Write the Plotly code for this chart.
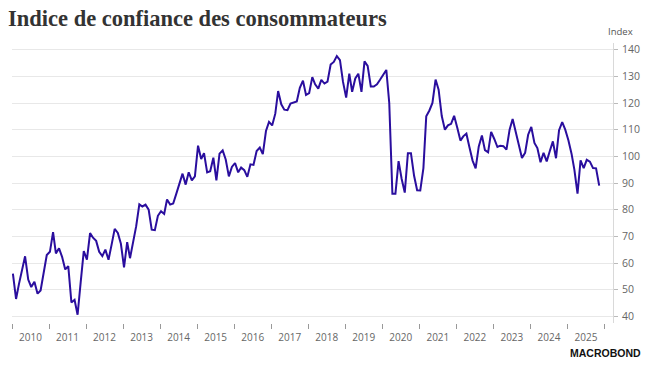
import pandas as pd
import plotly.graph_objects as go

# Monthly consumer confidence index, Jan 2010 .. Nov 2025
v2010 = [56, 46.5, 52, 57.5, 62.5, 53.8, 51, 53, 48.5, 49.7, 57.4, 63]
v2011 = [64.2, 71.6, 63.6, 65.5, 62.3, 57.6, 58.8, 45.2, 46.2, 40.6, 53, 64.5]
v2012 = [61.3, 71.2, 69.5, 68.3, 64.2, 62.6, 65, 61.2, 67, 72.8, 71.3, 67.2]
v2013 = [58.4, 67.8, 61.8, 67.8, 73.8, 82, 81.2, 81.9, 80, 72.5, 72.3, 77.7]
v2014 = [79.4, 78.4, 83.8, 81.9, 82.3, 86, 90, 93.5, 89.4, 94, 91, 92.5]
v2015 = [104, 99, 101.2, 94, 94.4, 99.5, 91, 101, 102.2, 98.8, 92.5, 96]
v2016 = [97.5, 94, 95.8, 94.8, 92.3, 97, 96.8, 102, 103.3, 100.8, 109.5, 112.9]
v2017 = [111.6, 116, 124.5, 119.5, 117.5, 117.3, 119.8, 120.2, 120.6, 125.7, 128.4, 123]
v2018 = [123.7, 129.7, 127, 125.4, 128.7, 127.3, 128, 134.4, 135.4, 137.6, 136.1, 127.9]
v2019 = [122, 131, 124.2, 129.2, 131, 124.2, 135.6, 133.9, 126.2, 126.2, 127, 128.7]
v2020 = [130.7, 132.4, 120, 86, 86, 98.2, 91.6, 86.4, 101.2, 101.2, 92.7, 87.3]
v2021 = [87.2, 95.6, 115, 117.2, 120, 128.8, 125, 115.1, 110, 111.6, 112.2, 115.2]
v2022 = [110.7, 105.9, 107.5, 108.5, 103.4, 98.4, 95.5, 103.7, 107.8, 102.3, 101.5, 109.2]
v2023 = [106.5, 103.5, 104, 103.8, 102.5, 110, 114, 108.8, 103.8, 99.4, 101.3, 108.1]
v2024 = [111, 105, 103.1, 97.8, 101.3, 98.1, 101.9, 105.6, 99.3, 109.8, 112.8, 110]
v2025 = [106, 101, 95, 86, 98.5, 95.6, 98.7, 98, 95.6, 95.5, 89]

values = (v2010 + v2011 + v2012 + v2013 + v2014 + v2015 + v2016 + v2017 +
          v2018 + v2019 + v2020 + v2021 + v2022 + v2023 + v2024 + v2025)
dates = pd.date_range("2010-01-01", periods=len(values), freq="MS") + pd.Timedelta(days=9)

title_text = "Indice de confiance des consommateurs"
y_title = "Index"
y_ticks = [40, 50, 60, 70, 80, 90, 100, 110, 120, 130, 140]
source_text = "MACROBOND"

fig = go.Figure()
fig.add_trace(go.Scatter(
    x=dates, y=values, mode="lines",
    line=dict(color="#2a0e9e", width=2),
    hoverinfo="x+y", showlegend=False,
))

W, H = 652, 367
L, R, T, B = 12, 30, 43, 44
PW, PH = W - L - R, H - T - B

fig.update_layout(
    width=W, height=H,
    margin=dict(l=L, r=R, t=T, b=B),
    paper_bgcolor="white", plot_bgcolor="white",
    xaxis=dict(
        type="date",
        range=["2010-01-01", "2026-03-26"],
        tick0="2010-01-01", dtick="M12",
        ticklabelmode="period", tickformat="%Y",
        ticks="outside", ticklen=5, tickwidth=1, tickcolor="#999999",
        showgrid=False, showline=False, zeroline=False,
        tickfont=dict(family="Open Sans", size=10, color="#666666"),
    ),
    yaxis=dict(
        side="right",
        range=[37.5, 142.5],
        tickvals=y_ticks,
        ticks="outside", ticklen=4, tickwidth=1, tickcolor="#bbbbbb",
        ticklabelstandoff=2,
        showline=True, linecolor="#d9d9d9", linewidth=1,
        showgrid=True, gridcolor="#e8e8e8", gridwidth=1,
        zeroline=False,
        tickfont=dict(family="Open Sans", size=10.5, color="#666666"),
    ),
    annotations=[
        dict(text=f"<b>{title_text}</b>", xref="paper", yref="paper",
             x=(7 - L) / PW, y=1, yshift=25, xanchor="left", yanchor="middle",
             showarrow=False, borderpad=0,
             font=dict(family="Liberation Serif", size=22.5, color="#333333")),
        dict(text=y_title, xref="paper", yref="paper", x=1 + 8 / PW, y=1.0,
             yshift=3, xanchor="center", yanchor="bottom", showarrow=False,
             font=dict(family="Open Sans", size=9.5, color="#555555")),
        dict(text=f"<b>{source_text}</b>", xref="paper", yref="paper",
             x=1 + 29 / PW, y=0, yshift=-30, xanchor="right", yanchor="middle",
             showarrow=False, borderpad=0,
             font=dict(family="Liberation Sans", size=10.5, color="#111111")),
    ],
)

fig.write_html(
    "out.html",
    config={"displayModeBar": False},
    post_script="document.body.style.margin='0';document.body.style.padding='0';",
)
